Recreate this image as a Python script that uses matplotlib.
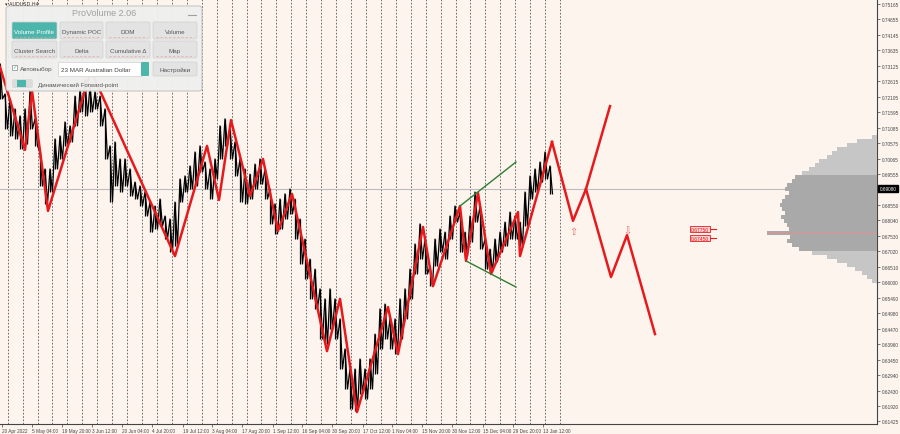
import numpy as np
import matplotlib
matplotlib.use("Agg")
import matplotlib.pyplot as plt
from matplotlib.patches import FancyBboxPatch, Rectangle

BG = '#fdf4ee'
plt.rcParams['font.family'] = ['Liberation Sans', 'DejaVu Sans']

# time scale (chart bar units)
date_pos = [2, 32, 62, 92, 122, 152, 183, 212, 242, 273, 302, 332, 363, 392, 422, 452, 483, 513, 543]
date_labels = ['20 Apr 2022', '5 May 04:00', '19 May 20:00', '3 Jun 12:00', '20 Jun 04:00',
               '4 Jul 20:00', '19 Jul 12:00', '3 Aug 04:00', '17 Aug 20:00', '1 Sep 12:00',
               '16 Sep 04:00', '30 Sep 20:00', '17 Oct 12:00', '1 Nov 04:00', '15 Nov 20:00',
               '30 Nov 12:00', '15 Dec 04:00', '29 Dec 20:00', '13 Jan 12:00']

price_ticks = [0.75165, 0.74655, 0.74145, 0.73635, 0.73125, 0.72615, 0.72105, 0.71595,
               0.71085, 0.70575, 0.70065, 0.69555, 0.68550, 0.68040, 0.67530, 0.67020,
               0.66510, 0.66000, 0.65490, 0.64980, 0.64470, 0.63960, 0.63450, 0.62940,
               0.62430, 0.61920, 0.61425]
last_price = 0.6908

# price bars (high / low), one per 5 chart units
bar_high = [0.7319, 0.7220, 0.7204, 0.7171, 0.7148, 0.7171, 0.7230, 0.7138, 0.7029, 0.6973,
            0.6973, 0.7072, 0.7082, 0.7128, 0.7115, 0.7213, 0.7236, 0.7269, 0.7246, 0.7227,
            0.7213, 0.7171, 0.7049, 0.7062, 0.7006, 0.7006, 0.6973, 0.6930, 0.6917, 0.6897,
            0.6864, 0.6851, 0.6874, 0.6818, 0.6808, 0.6864, 0.6940, 0.6950, 0.6983, 0.7029,
            0.7049, 0.6996, 0.6973, 0.7006, 0.7115, 0.7138, 0.7105, 0.7062, 0.7006, 0.6973,
            0.6956, 0.6989, 0.7006, 0.6973, 0.6907, 0.6858, 0.6874, 0.6891, 0.6907, 0.6874,
            0.6808, 0.6742, 0.6676, 0.6643, 0.6578, 0.6545, 0.6578, 0.6545, 0.6479, 0.6380,
            0.6314, 0.6314, 0.6347, 0.6314, 0.6347, 0.6429, 0.6512, 0.6528, 0.6479, 0.6479,
            0.6545, 0.6578, 0.6643, 0.6726, 0.6792, 0.6742, 0.6653, 0.6742, 0.6775, 0.6765,
            0.6818, 0.6851, 0.6831, 0.6765, 0.6818, 0.6897, 0.6851, 0.6742, 0.6709, 0.6742,
            0.6765, 0.6798, 0.6831, 0.6818, 0.6798, 0.6897, 0.6950, 0.6973, 0.6996, 0.7029,
            0.6983]
bar_low = [0.7204, 0.7105, 0.7082, 0.7072, 0.7039, 0.7055, 0.7105, 0.7049, 0.6917, 0.6858,
           0.6897, 0.6973, 0.7006, 0.7049, 0.7062, 0.7115, 0.7161, 0.7148, 0.7161, 0.7171,
           0.7115, 0.7006, 0.6864, 0.6917, 0.6897, 0.6917, 0.6884, 0.6874, 0.6851, 0.6818,
           0.6765, 0.6775, 0.6785, 0.6742, 0.6699, 0.6719, 0.6864, 0.6897, 0.6907, 0.6917,
           0.6963, 0.6907, 0.6874, 0.6940, 0.7006, 0.7049, 0.7006, 0.6950, 0.6864, 0.6858,
           0.6874, 0.6907, 0.6923, 0.6874, 0.6792, 0.6759, 0.6775, 0.6808, 0.6825, 0.6742,
           0.6660, 0.6611, 0.6545, 0.6512, 0.6413, 0.6396, 0.6446, 0.6413, 0.6314, 0.6248,
           0.6182, 0.6176, 0.6232, 0.6215, 0.6248, 0.6298, 0.6380, 0.6413, 0.6380, 0.6363,
           0.6413, 0.6479, 0.6545, 0.6627, 0.6676, 0.6627, 0.6587, 0.6653, 0.6699, 0.6676,
           0.6742, 0.6798, 0.6699, 0.6686, 0.6732, 0.6798, 0.6709, 0.6643, 0.6634, 0.6667,
           0.6699, 0.6719, 0.6742, 0.6742, 0.6719, 0.6785, 0.6874, 0.6897, 0.6930, 0.6940,
           0.6891]
bar_x = np.arange(len(bar_high)) * 5

# zigzag swings
zz_x = [0, 25, 32, 48, 91, 175, 207, 219, 231, 250, 263, 278, 292, 327, 340, 357, 388, 398,
        423, 433, 460, 466, 478, 491, 518, 520, 552]
zz_p = [0.7309, 0.7036, 0.7230, 0.6835, 0.7296, 0.6686, 0.7049, 0.6871, 0.7134, 0.6884,
        0.7006, 0.6769, 0.6891, 0.6373, 0.6545, 0.6172, 0.6518, 0.6363, 0.6782, 0.6587,
        0.6851, 0.6670, 0.6894, 0.6627, 0.6831, 0.6686, 0.7062]

# forecast paths
fc_main_x = [552, 573, 586, 610]
fc_main_p = [0.7062, 0.6802, 0.6907, 0.7180]
fc_alt_x = [586, 611, 627, 655]
fc_alt_p = [0.6907, 0.6617, 0.6755, 0.6429]

# broadening formation
green_up_x = [460, 516]
green_up_p = [0.6851, 0.6996]
green_dn_x = [466, 516]
green_dn_p = [0.6670, 0.6584]

levels = [0.6775, 0.6745]

# volume profile
vp_price = [0.7079, 0.7066, 0.7052, 0.7039, 0.7026, 0.7013, 0.7000, 0.6986, 0.6973, 0.6960,
            0.6947, 0.6933, 0.6920, 0.6907, 0.6894, 0.6881, 0.6867, 0.6854, 0.6841, 0.6828,
            0.6815, 0.6801, 0.6788, 0.6775, 0.6762, 0.6749, 0.6735, 0.6722, 0.6709, 0.6696,
            0.6683, 0.6669, 0.6656, 0.6643, 0.6630, 0.6617, 0.6603]
vp_vol = [5, 20, 30, 40, 45, 50, 58, 62, 68, 75, 82, 85, 90, 92, 88, 92, 95, 97, 95, 92,
          96, 93, 90, 88, 110, 87, 90, 85, 78, 65, 50, 40, 30, 22, 15, 10, 5]
va_high, va_low = 0.6956, 0.6703
poc = 0.6762

fig = plt.figure(figsize=(9, 4.35), dpi=100, facecolor=BG)
ax = fig.add_axes([0, 10 / 435, 877 / 900, 425 / 435])
ax.set_facecolor(BG)
ax.set_xlim(0, 877)
ax.set_ylim(0.61328, 0.75330)

# weekly separators
for xs in np.linspace(7.7, 560, 38):
    ax.axvline(xs, color='#555555', lw=0.6, ls=(0, (2, 2)), zorder=1)

ax.axhline(last_price, color='#bdbdbd', lw=0.8, zorder=1)

# volume profile on its own reversed axis
vp = ax.twiny()
vp.set_xlim(877, 0)
vp_colors = ['#a9a9a9' if va_low <= p <= va_high else '#c6c6c6' for p in vp_price]
vp.barh(vp_price, vp_vol, height=0.00135, color=vp_colors, edgecolor='none', zorder=0)
vp.plot([0, max(vp_vol)], [poc, poc], color='#f08c8c', lw=0.6)
vp.axis('off')

# price bars drawn as a scribble between each high and low
scr_x = np.ravel(np.column_stack([bar_x, bar_x + 2.5]))
scr_p = np.ravel(np.column_stack([bar_high, bar_low]))
ax.plot(scr_x, scr_p, color='black', lw=0.9, zorder=3)
ax.vlines(bar_x, bar_low, bar_high, color='black', lw=0.9, zorder=3)

ax.plot(zz_x, zz_p, color='#e8191c', lw=1.8, zorder=4)
ax.plot(fc_main_x, fc_main_p, color='#e8191c', lw=1.8, zorder=4)
ax.plot(fc_alt_x, fc_alt_p, color='#e8191c', lw=1.8, zorder=4)
ax.plot(green_up_x, green_up_p, color='#2e7d32', lw=1.0, zorder=4)
ax.plot(green_dn_x, green_dn_p, color='#2e7d32', lw=1.0, zorder=4)

ax.text(573, 0.6769, '⇧', color='#ee6a6a', fontsize=7, ha='center', va='center',
        family='DejaVu Sans')
ax.text(627, 0.6772, '⇩', color='#ee6a6a', fontsize=7, ha='center', va='center',
        family='DejaVu Sans')

for lv in levels:
    ax.plot([710, 716], [lv, lv], color='#e8191c', lw=0.8)
    ax.text(700, lv, f'{lv:.5f}', color='#e8191c', fontsize=3.6, ha='center', va='center',
            bbox=dict(boxstyle='square,pad=0.15', fc='#f9d3d3', ec='#e8191c', lw=0.6))

# axes styling
for s in ['left', 'top']:
    ax.spines[s].set_visible(False)
for s in ['right', 'bottom']:
    ax.spines[s].set_color('#444444')
    ax.spines[s].set_linewidth(0.8)
ax.yaxis.tick_right()
ax.set_yticks(price_ticks)
ax.set_yticklabels([f'{p:.5f}' for p in price_ticks])
ax.set_xticks(date_pos)
ax.set_xticklabels(date_labels, ha='left')
ax.tick_params(axis='both', labelsize=3.4, colors='#444444', length=2, width=0.5, pad=1.2)
ax.text(1.003, last_price, f'{last_price:.5f}', transform=ax.get_yaxis_transform(),
        fontsize=3.4, color='white', va='center', ha='left',
        bbox=dict(boxstyle='square,pad=0.25', fc='black', ec='black'))

# ProVolume panel overlay (pixel coordinates)
ov = fig.add_axes([0, 0, 1, 1], zorder=10)
ov.set_xlim(0, 900)
ov.set_ylim(435, 0)
ov.axis('off')
ov.text(5, 4, '▾ AUDUSD,H4', fontsize=3.6, color='#333333', va='center', family='DejaVu Sans')
ov.add_patch(FancyBboxPatch((6, 7), 196, 85, boxstyle='round,pad=0,rounding_size=3',
                            fc='#efefef', ec='#c4c4c4', lw=0.8, alpha=0.96))
ov.text(104, 14, 'ProVolume 2.06', fontsize=6.5, color='#a0a0a0', ha='center', va='center')
ov.plot([188, 196], [16, 16], color='#a0a0a0', lw=0.8)

btn_x = [(12, 57), (60, 103), (106, 150), (153, 197)]
row1 = ['Volume Profile', 'Dynamic POC', 'DOM', 'Volume']
row2 = ['Cluster Search', 'Delta', 'Cumulative Δ', 'Map']
for row, (y0, y1) in [(row1, (23, 40)), (row2, (42, 59))]:
    for (x0, x1), name in zip(btn_x, row):
        active = name == 'Volume Profile'
        ov.add_patch(FancyBboxPatch((x0, y0), x1 - x0, y1 - y0,
                                    boxstyle='round,pad=0,rounding_size=1.5',
                                    fc='#4db6ac' if active else '#e3e3e3',
                                    ec='#d0d0d0', lw=0.5))
        ov.text((x0 + x1) / 2, (y0 + y1) / 2 + 1, name, fontsize=4.5,
                color='white' if active else '#555555', ha='center', va='center')
        ov.plot([x0 + 3, x1 - 3], [y1 - 2, y1 - 2], color='#e9a0a0', lw=0.5,
                ls=(0, (3, 3)))

ov.add_patch(Rectangle((12, 66), 5, 5, fc='white', ec='#888888', lw=0.5))
ov.text(12.5, 68, '✓', fontsize=4, color='#4db6ac', va='center', family='DejaVu Sans')
ov.text(20, 69.5, 'Автовыбор', fontsize=4.6, color='#555555', va='center')
ov.add_patch(Rectangle((58, 63), 83, 14, fc='white', ec='#d0d0d0', lw=0.5))
ov.text(61, 70.5, '23 MAR Australian Dollar', fontsize=4.5, color='#444444', va='center')
ov.add_patch(FancyBboxPatch((141, 63), 8, 14, boxstyle='round,pad=0,rounding_size=1',
                            fc='#4db6ac', ec='none'))
ov.add_patch(FancyBboxPatch((153, 63), 44, 14, boxstyle='round,pad=0,rounding_size=1.5',
                            fc='#e3e3e3', ec='#d0d0d0', lw=0.5))
ov.text(175, 70.5, 'Настройки', fontsize=4.6, color='#555555', ha='center', va='center')
ov.add_patch(FancyBboxPatch((12, 80), 21, 9, boxstyle='round,pad=0,rounding_size=2',
                            fc='#dcdcdc', ec='none'))
ov.add_patch(Rectangle((17, 81), 9, 7, fc='#4db6ac', ec='none'))
ov.text(38, 85, 'Динамический Forward-point', fontsize=4.4, color='#555555', va='center')

fig.savefig('out.png', dpi=100, facecolor=BG)
